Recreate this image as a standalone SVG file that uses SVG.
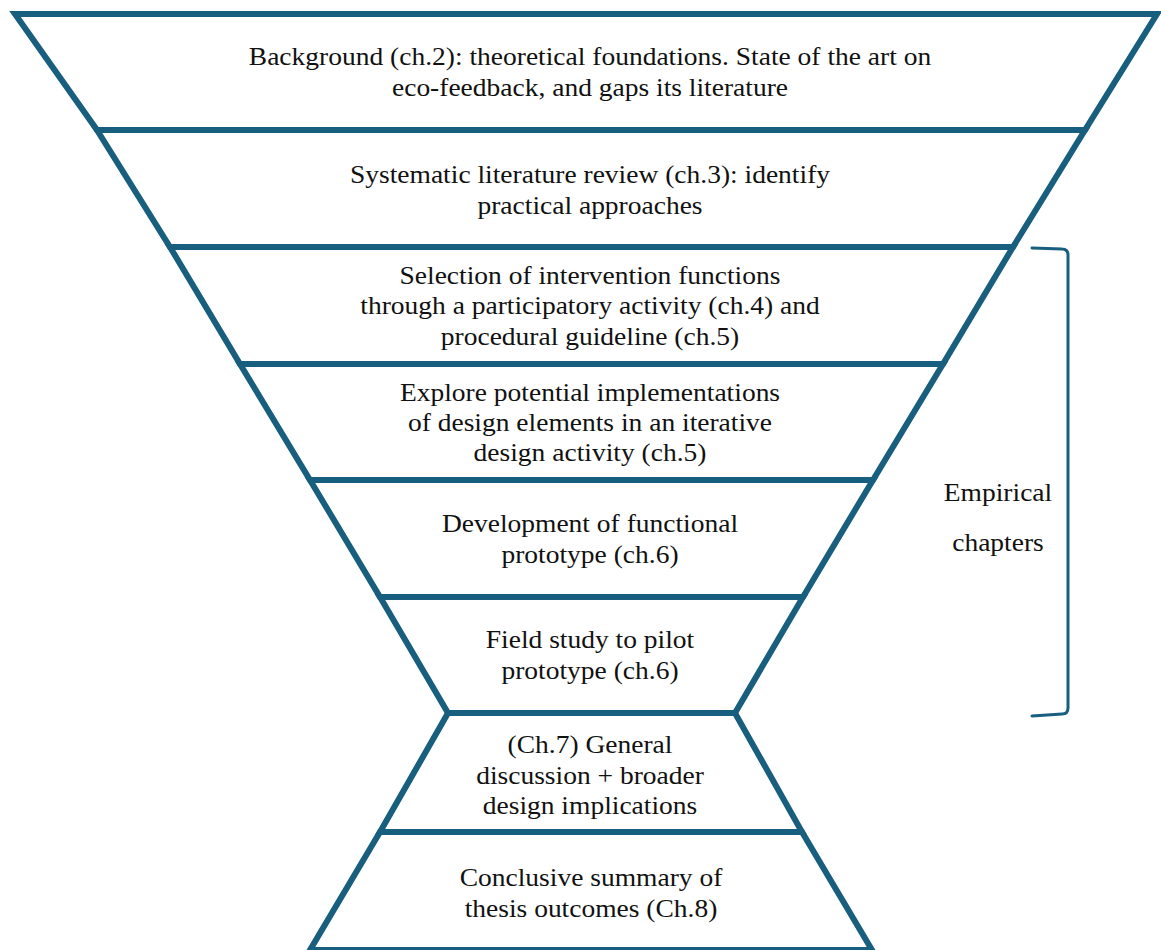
<svg xmlns="http://www.w3.org/2000/svg" width="1161" height="950" viewBox="0 0 1161 950">
  <style>
    .band { fill: #ffffff; stroke: #175e7f; stroke-width: 6; stroke-linejoin: miter; }
    .lbl { font-size: 25px; fill: #111111; text-anchor: middle; }
    .brace { fill: none; stroke: #175e7f; stroke-width: 3; stroke-linecap: round; stroke-linejoin: round; }
  </style>
  <rect width="1161" height="950" fill="#ffffff"/>

  <!-- all labels share one serif face; each line is centred on its band and stretched 1.1x horizontally -->
  <g font-family="Liberation Serif, DejaVu Serif, serif">
  <g id="background">
    <polygon class="band" points="15,14 1157,14 1085,130 97,130"/>
    <text class="lbl" transform="translate(590 65) scale(1.1 1)">Background (ch.2): theoretical foundations. State of the art on</text>
    <text class="lbl" transform="translate(590 96) scale(1.1 1)">eco-feedback, and gaps its literature</text>
  </g>

  <g id="slr">
    <polygon class="band" points="97,130 1085,130 1013,247 170,247"/>
    <text class="lbl" transform="translate(590 183) scale(1.1 1)">Systematic literature review (ch.3): identify</text>
    <text class="lbl" transform="translate(590 214) scale(1.1 1)">practical approaches</text>
  </g>

  <g id="selection">
    <polygon class="band" points="170,247 1013,247 943,364 240,364"/>
    <text class="lbl" transform="translate(590 284) scale(1.1 1)">Selection of intervention functions</text>
    <text class="lbl" transform="translate(590 314) scale(1.1 1)">through a participatory activity (ch.4) and</text>
    <text class="lbl" transform="translate(590 345) scale(1.1 1)">procedural guideline (ch.5)</text>
  </g>

  <g id="explore">
    <polygon class="band" points="240,364 943,364 873,480 310,480"/>
    <text class="lbl" transform="translate(590 401) scale(1.1 1)">Explore potential implementations</text>
    <text class="lbl" transform="translate(590 431) scale(1.1 1)">of design elements in an iterative</text>
    <text class="lbl" transform="translate(590 461) scale(1.1 1)">design activity (ch.5)</text>
  </g>

  <g id="development">
    <polygon class="band" points="310,480 873,480 803,597 380,597"/>
    <text class="lbl" transform="translate(590 532) scale(1.1 1)">Development of functional</text>
    <text class="lbl" transform="translate(590 563) scale(1.1 1)">prototype (ch.6)</text>
  </g>

  <g id="field-study">
    <polygon class="band" points="380,597 803,597 735,713 448,713"/>
    <text class="lbl" transform="translate(590 648) scale(1.1 1)">Field study to pilot</text>
    <text class="lbl" transform="translate(590 679) scale(1.1 1)">prototype (ch.6)</text>
  </g>

  <g id="discussion">
    <polygon class="band" points="448,713 735,713 802,832 380,832"/>
    <text class="lbl" transform="translate(590 753) scale(1.1 1)">(Ch.7) General</text>
    <text class="lbl" transform="translate(590 784) scale(1.1 1)">discussion + broader</text>
    <text class="lbl" transform="translate(590 814) scale(1.1 1)">design implications</text>
  </g>

  <g id="conclusion">
    <polygon class="band" points="380,832 802,832 872,950 310,950"/>
    <text class="lbl" transform="translate(591 886) scale(1.1 1)">Conclusive summary of</text>
    <text class="lbl" transform="translate(591 917) scale(1.1 1)">thesis outcomes (Ch.8)</text>
  </g>

  <g id="empirical-chapters">
    <path class="brace" d="M1032,248 L1062,249 Q1068,249 1068,255 L1068,708 Q1068,714 1062,714 L1032,716"/>
    <text class="lbl" transform="translate(998 501) scale(1.1 1)">Empirical</text>
    <text class="lbl" transform="translate(998 551) scale(1.1 1)">chapters</text>
  </g>
  </g>
</svg>
